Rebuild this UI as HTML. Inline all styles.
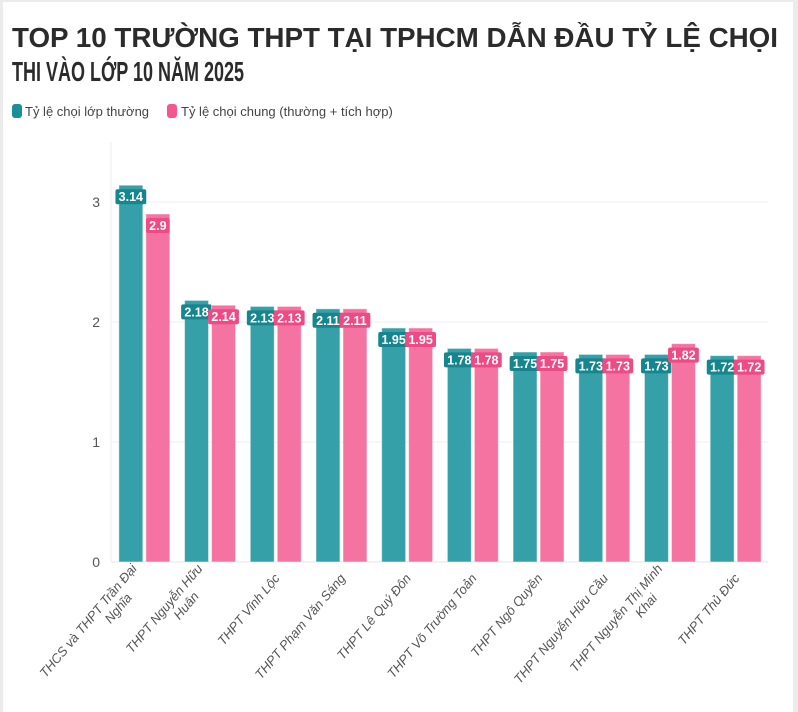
<!DOCTYPE html>
<html><head><meta charset="utf-8">
<style>
html,body{margin:0;padding:0;background:#ebebeb;}
#wrap{position:absolute;left:3px;top:2px;width:790px;height:710px;background:#fff;}
svg{position:absolute;left:0;top:0;}
text{font-family:"Liberation Sans","DejaVu Sans",sans-serif;}
</style></head>
<body>
<div id="wrap"></div>
<svg id="chart" width="798" height="712">
  <text x="12" y="47" font-size="28" font-weight="bold" fill="#2b2b2b" textLength="766" lengthAdjust="spacingAndGlyphs">TOP 10 TRƯỜNG THPT TẠI TPHCM DẪN ĐẦU TỶ LỆ CHỌI</text>
  <text x="12" y="81" font-size="28" font-weight="bold" fill="#2b2b2b" textLength="232" lengthAdjust="spacingAndGlyphs">THI VÀO LỚP 10 NĂM 2025</text>
  <g>
    <rect x="12" y="104" width="10" height="14" rx="3" fill="#1a8f97"/>
    <text x="25" y="116" font-size="13" fill="#444">Tỷ lệ chọi lớp thường</text>
    <rect x="167" y="104" width="10" height="14" rx="3" fill="#f4578d"/>
    <text x="181" y="116" font-size="13" fill="#444">Tỷ lệ chọi chung (thường + tích hợp)</text>
  </g>
  <g id="plot"></g>
</svg>
<script>
const categories = [["THCS và THPT Trần Đại","Nghĩa"],["THPT Nguyễn Hữu","Huân"],["THPT Vĩnh Lộc"],["THPT Phạm Văn Sáng"],["THPT Lê Quý Đôn"],["THPT Võ Trường Toản"],["THPT Ngô Quyền"],["THPT Nguyễn Hữu Cầu"],["THPT Nguyễn Thị Minh","Khai"],["THPT Thủ Đức"]];
const regularRatio = [3.14,2.18,2.13,2.11,1.95,1.78,1.75,1.73,1.73,1.72];
const overallRatio = [2.9,2.14,2.13,2.11,1.95,1.78,1.75,1.73,1.82,1.72];
const yTicks = [0,1,2,3];

const NS="http://www.w3.org/2000/svg";
const plot=document.getElementById('plot');
const X0=111,X1=768,Y0=562,PX=120;
const step=(X1-X0)/categories.length;
const y=v=>Y0-v*PX;
const xc=i=>X0+step*(i+0.5);
function mk(tag,attrs,parent){const e=document.createElementNS(NS,tag);for(const k in attrs)e.setAttribute(k,attrs[k]);(parent||plot).appendChild(e);return e;}

const axis=mk('line',{x1:X0,x2:X0,y1:142,y2:Y0,stroke:'#eee'});


yTicks.forEach(t=>{
  const g=mk('line',{x1:X0,x2:X1,y1:y(t),y2:y(t),stroke:t===0?'#e6e6e6':'#efefef'});
  
  
  const tl=mk('text',{x:100,y:y(t)+5,'font-size':14,fill:'#555','text-anchor':'end'});
  tl.textContent=t;
  
  
});
const BW=24;
function bar(i,v,dx,fill,lab,name){
  const x=xc(i)+dx;
  const r=mk('rect',{x:x,y:y(v),width:BW,height:v*PX,fill:fill,stroke:'#fff','stroke-opacity':0.5,'stroke-width':1});
  
  
  const t=String(v);
  const w=t.length*7.2+2;
  const ly=y(v)+12;
  const bg=mk('rect',{x:x+BW/2-w/2,y:ly-8,width:w,height:15,rx:2,fill:lab});
  
  
  const tx=mk('text',{x:x+BW/2,y:ly+4,'font-size':12.5,'font-weight':'bold',fill:'#fff','text-anchor':'middle'});
  tx.textContent=t;
  
  
}
categories.forEach((c,i)=>{
  bar(i,regularRatio[i],-25,'#36a0a8','#17858d','regular');
  bar(i,overallRatio[i],2,'#f573a0','#ee4a83','overall');
  const cx=xc(i)+2;
  const g=mk('g',{transform:`translate(${cx},576) rotate(-50)`});
  
  
  c.forEach((line,k)=>{
    const t=mk('text',{x:0,y:(k-(c.length-1))*15+4,'font-size':13,'font-style':'italic',fill:'#555','text-anchor':'end'},g);
    if(c.length>1&&k===1){t.setAttribute('text-anchor','middle');t.setAttribute('x',-line.length*3.5-25);}
    t.textContent=line;
  });
});
</script>
</body></html>
